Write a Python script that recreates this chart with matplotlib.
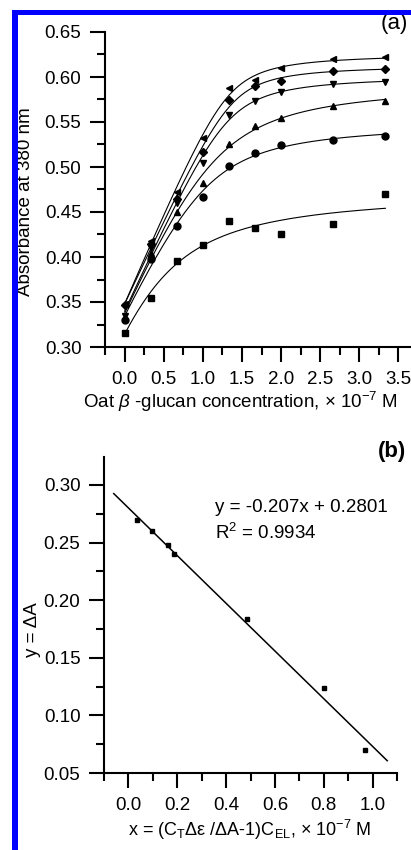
import numpy as np
import matplotlib.pyplot as plt
from matplotlib.patches import Rectangle
from matplotlib.ticker import FixedLocator, FormatStrFormatter

plt.rcParams['font.family'] = ['Liberation Sans', 'DejaVu Sans']
plt.rcParams['mathtext.fontset'] = 'custom'
plt.rcParams['mathtext.rm'] = 'Liberation Sans'
plt.rcParams['mathtext.it'] = 'Liberation Sans:italic'

# ---- data, panel (a): absorbance at 380 nm vs oat beta-glucan conc. ----
conc = np.array([0.0, 0.333, 0.667, 1.0, 1.333, 1.667, 2.0, 2.667, 3.333])
abs_square = [0.316, 0.355, 0.396, 0.413, 0.440, 0.432, 0.426, 0.437, 0.470]
abs_circle = [0.330, 0.398, 0.434, 0.467, 0.501, 0.516, 0.524, 0.530, 0.534]
abs_up = [0.333, 0.405, 0.450, 0.482, 0.526, 0.546, 0.554, 0.568, 0.573]
abs_down = [0.335, 0.410, 0.460, 0.504, 0.558, 0.573, 0.583, 0.592, 0.595]
abs_diamond = [0.347, 0.414, 0.464, 0.517, 0.574, 0.590, 0.596, 0.607, 0.609]
abs_left = [0.348, 0.418, 0.472, 0.532, 0.588, 0.597, 0.610, 0.620, 0.622]
series_a = [abs_square, abs_circle, abs_up, abs_down, abs_diamond, abs_left]
markers_a = ['s', 'o', '^', 'v', 'D', '<']

xticks_a = [0.0, 0.5, 1.0, 1.5, 2.0, 2.5, 3.0, 3.5]
yticks_a = [0.30, 0.35, 0.40, 0.45, 0.50, 0.55, 0.60, 0.65]

# ---- data, panel (b): linear plot ----
x_b = [0.037, 0.097, 0.163, 0.187, 0.487, 0.800, 0.968]
y_b = [0.270, 0.260, 0.248, 0.240, 0.184, 0.124, 0.070]
slope, intercept, r2 = -0.207, 0.2801, 0.9934
line_range = [-0.06, 1.06]

xticks_b = [0.0, 0.2, 0.4, 0.6, 0.8, 1.0]
yticks_b = [0.05, 0.10, 0.15, 0.20, 0.25, 0.30]


def binding_fit(x, y):
    # tight-binding (quadratic) isotherm, grid search + linear least squares
    y = np.asarray(y)
    best = None
    for c in np.linspace(0.2, 3.0, 57):
        for k in np.geomspace(0.04, 3.0, 60):
            s = c + x + k
            g = (s - np.sqrt(s**2 - 4 * c * x)) / (2 * c)
            M = np.column_stack([np.ones_like(x), g])
            coef = np.linalg.lstsq(M, y, rcond=None)[0]
            err = np.sum((M @ coef - y) ** 2)
            if best is None or err < best[0]:
                best = (err, c, k, coef)
    _, c, k, coef = best

    def f(xx):
        s = c + xx + k
        return coef[0] + coef[1] * (s - np.sqrt(s**2 - 4 * c * xx)) / (2 * c)
    return f


W, H = 411, 850
fig = plt.figure(figsize=(W / 100, H / 100), dpi=100)


def px_axes(l, t, r, b):
    return fig.add_axes([l / W, 1 - b / H, (r - l) / W, (b - t) / H])


def ftext(x, y, s, **kw):
    fig.text(x / W, 1 - y / H, s, **kw)


ax1 = px_axes(105, 32, 411, 347)
ax2 = px_axes(104, 457, 397, 773)

# panel (a)
xfine = np.linspace(0, conc[-1], 200)
for vals, m in zip(series_a, markers_a):
    f = binding_fit(conc, vals)
    ax1.plot(xfine, f(xfine), color='black', lw=0.8)
    ms = 4 if m == 's' else (4.2 if m == 'D' else 5)
    ax1.plot(conc, vals, linestyle='none', marker=m, ms=ms, color='black')
ax1.set_xlim(-0.25, 3.66)
ax1.set_ylim(0.30, 0.65)
ax1.xaxis.set_major_locator(FixedLocator(xticks_a))
ax1.xaxis.set_minor_locator(FixedLocator(np.arange(-0.25, 3.7, 0.25)))
ax1.yaxis.set_major_locator(FixedLocator(yticks_a))
ax1.yaxis.set_minor_locator(FixedLocator(np.arange(0.30, 0.651, 0.025)))
ax1.xaxis.set_major_formatter(FormatStrFormatter('%.1f'))
ax1.yaxis.set_major_formatter(FormatStrFormatter('%.2f'))

# panel (b)
xl = np.array(line_range)
ax2.plot(xl, slope * xl + intercept, color='black', lw=1.1)
ax2.plot(x_b, y_b, linestyle='none', marker='s', ms=3.2, color='black')
ax2.set_xlim(-0.1, 1.1)
ax2.set_ylim(0.05, 0.3243)
ax2.xaxis.set_major_locator(FixedLocator(xticks_b))
ax2.xaxis.set_minor_locator(FixedLocator(np.arange(-0.1, 1.11, 0.1)))
ax2.yaxis.set_major_locator(FixedLocator(yticks_b))
ax2.yaxis.set_minor_locator(FixedLocator(np.arange(0.075, 0.33, 0.05)))
ax2.xaxis.set_major_formatter(FormatStrFormatter('%.1f'))
ax2.yaxis.set_major_formatter(FormatStrFormatter('%.2f'))

for ax in (ax1, ax2):
    ax.spines['top'].set_visible(False)
    ax.spines['right'].set_visible(False)
    ax.spines['left'].set_linewidth(1.5)
    ax.spines['bottom'].set_linewidth(1.5)
    ax.tick_params(which='major', direction='out', length=11, width=1.5,
                   labelsize=13.5, pad=6)
    ax.tick_params(which='minor', direction='out', length=5.5, width=1.5)
    for sp in ax.spines.values():
        sp.set_clip_on(False)

# labels
ftext(25, 202, 'Absorbance at 380 nm', rotation=90, ha='center', va='center',
      fontsize=13.5)
ftext(240, 390, r'Oat $\beta$ -glucan concentration, × 10$^{-7}$ M',
      ha='center', va='top', fontsize=13.5)
ftext(408, 13, '(a)', ha='right', va='top', fontsize=16)

ftext(32, 630, 'y = ΔA', rotation=90, ha='center', va='center', fontsize=13.5)
ftext(250, 836, r'x = (C$_\mathrm{T}$Δε /ΔA-1)C$_\mathrm{EL}$, × 10$^{-7}$ M',
      ha='center', va='baseline', fontsize=13)
ftext(406, 441, '(b)', ha='right', va='top', fontsize=16, fontweight='bold')

ftext(215, 507, f'y = {slope}x + {intercept}', ha='left', va='center',
      fontsize=13.5)
ftext(215, 533, f'R$^2$ = {r2}', ha='left', va='center', fontsize=13.5)

# blue frame
fig.add_artist(Rectangle((12 / W, 0), 6 / W, 1 - 10 / H, transform=fig.transFigure,
                         color='#0000ff', lw=0, zorder=10))
fig.add_artist(Rectangle((12 / W, 1 - 15 / H), 1, 5 / H, transform=fig.transFigure,
                         color='#0000ff', lw=0, zorder=10))

fig.savefig('out.png', dpi=100)
